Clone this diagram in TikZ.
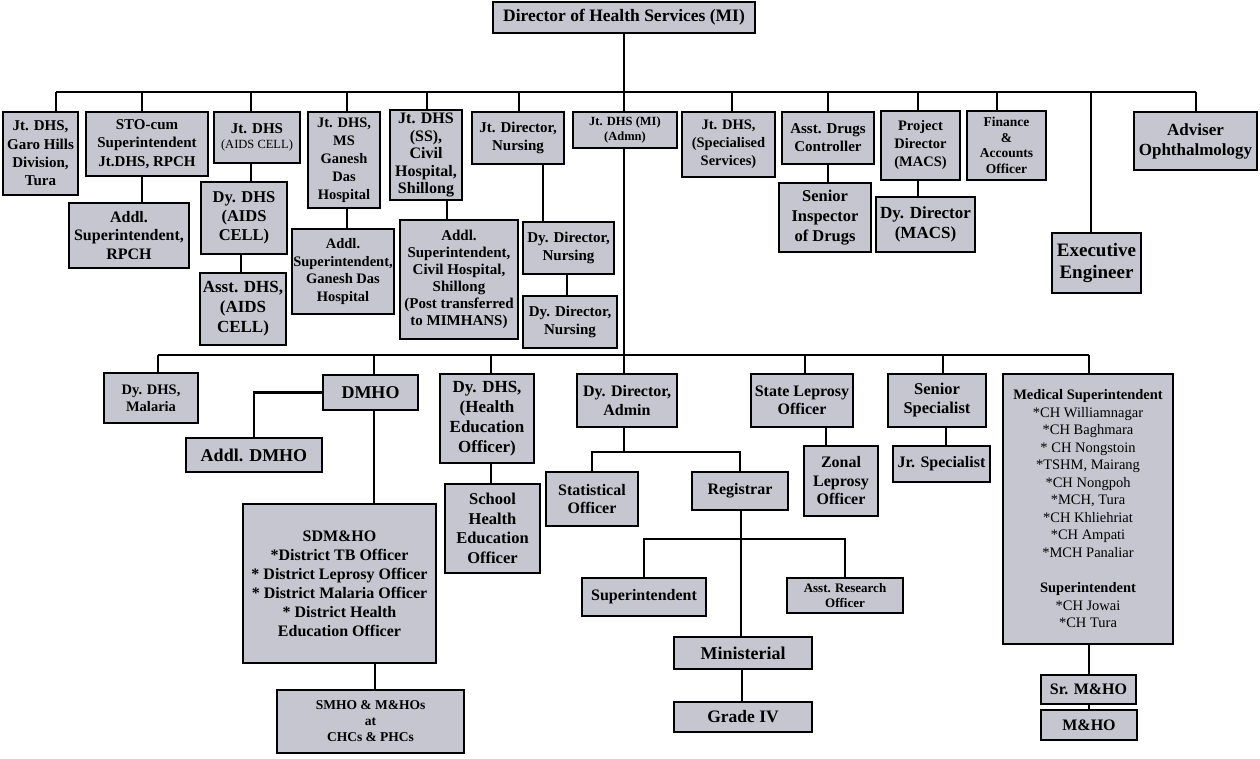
\documentclass[tikz,border=0pt]{standalone}
\usepackage{fontspec}
\setmainfont{Liberation Serif}
\definecolor{boxfill}{RGB}{198,198,208}
\tikzset{
  box/.style={draw=black, line width=2.6pt, fill=boxfill, inner sep=0pt, align=center},
  conn/.style={line width=2.6pt, line join=miter},
}
\newcommand\obox[8]{\node[box, minimum width={(#4)-(#2)}, minimum height={(#5)-(#3)}, font=\fontsize{#6}{#7}\selectfont\bfseries] (#1) at ({((#2)+(#4))/2},{((#3)+(#5))/2}) {#8};}
\begin{document}
\begin{tikzpicture}[x=1pt,y=-1pt]
\useasboundingbox[fill=white] (0,0) rectangle (1260,758);

% ---------- coordinates ----------
\coordinate (t1) at (56,92);
\coordinate (t2) at (142,92);
\coordinate (t3) at (251,92);
\coordinate (t4) at (347,92);
\coordinate (t5) at (427,92);
\coordinate (t6) at (519,92);
\coordinate (t7) at (624,92);
\coordinate (t8) at (732,92);
\coordinate (t9) at (828,92);
\coordinate (t10) at (918,92);
\coordinate (t11) at (997,92);
\coordinate (t12) at (1091,92);
\coordinate (t13) at (1196,92);

\coordinate (s1) at (158,355);
\coordinate (s2) at (374,355);
\coordinate (s3) at (491,355);
\coordinate (s4) at (624,355);
\coordinate (s5) at (805,355);
\coordinate (s6) at (943,355);
\coordinate (s7) at (1089,355);

\coordinate (k1) at (142,0);
\coordinate (k2) at (251,0);
\coordinate (k3) at (241,0);
\coordinate (k4) at (347,0);
\coordinate (k5) at (447,0);
\coordinate (k6) at (543,0);
\coordinate (k7) at (567,0);
\coordinate (k8) at (828,0);
\coordinate (k9) at (918,0);
\coordinate (k10) at (374,0);
\coordinate (k11) at (375,0);
\coordinate (k12) at (491,0);
\coordinate (k13) at (742,0);
\coordinate (k14) at (826,0);
\coordinate (k15) at (946,0);
\coordinate (k16) at (1089,0);
\coordinate (a1) at (624,452);
\coordinate (r1) at (741,539);

% ---------- boxes ----------
\obox{dir}{493}{2}{755}{33}{17.5}{20}{Director of Health Services (MI)}
\obox{garo}{3}{112}{78}{195}{15}{18.3}{Jt. DHS,\\Garo Hills\\Division,\\Tura}
\obox{sto}{86}{112}{208}{176}{15}{18.3}{STO-cum\\Superintendent\\Jt.DHS, RPCH}
\obox{aids}{214}{112}{300}{163}{15}{15}{Jt. DHS\\{\mdseries\fontsize{12.5}{14}\selectfont (AIDS CELL)}}
\obox{ms}{308}{112}{380}{208}{14.5}{18}{Jt. DHS,\\MS\\Ganesh\\Das\\Hospital}
\obox{ss}{390}{110}{462}{200}{16}{17.5}{Jt. DHS\\(SS),\\Civil\\Hospital,\\Shillong}
\obox{nurs}{472}{112}{564}{164}{15}{18}{Jt. Director,\\Nursing}
\obox{mi}{573}{112}{677}{148}{12.5}{14.5}{Jt. DHS (MI)\\(Admn)}
\obox{spec}{682}{112}{775}{177}{14.5}{18}{Jt. DHS,\\(Specialised\\Services)}
\obox{drug}{782}{112}{874}{164}{15}{18}{Asst. Drugs\\Controller}
\obox{proj}{881}{111}{960}{180}{14.5}{18}{Project\\Director\\(MACS)}
\obox{fin}{967}{111}{1046}{180}{13.5}{15.7}{Finance\\\&\\Accounts\\Officer}
\obox{adv}{1134}{112}{1257}{170}{17}{20}{Adviser\\Ophthalmology}
\obox{exe}{1052}{233}{1141}{293}{19}{21.5}{Executive\\Engineer}

\obox{rpch}{69}{203}{189}{268}{16}{18.3}{Addl.\\Superintendent,\\RPCH}
\obox{dyaids}{201}{182}{287}{254}{16.5}{19}{Dy. DHS\\(AIDS\\CELL)}
\obox{asaids}{200}{273}{286}{345}{17}{20}{Asst. DHS,\\(AIDS\\CELL)}
\obox{gdh}{292}{229}{394}{314}{14.5}{17.5}{Addl.\\Superintendent,\\Ganesh Das\\Hospital}
\obox{csh}{400}{220}{518}{339}{15}{17}{Addl.\\Superintendent,\\Civil Hospital,\\Shillong\\(Post transferred\\to MIMHANS)}
\obox{dn1}{523}{222}{614}{274}{15}{18}{Dy. Director,\\Nursing}
\obox{dn2}{523}{296}{617}{348}{15}{18}{Dy. Director,\\Nursing}
\obox{sid}{779}{183}{871}{252}{16.5}{20}{Senior\\Inspector\\of Drugs}
\obox{ddm}{876}{197}{975}{252}{17}{20}{Dy. Director\\(MACS)}

\obox{mal}{104}{373}{198}{423}{14.5}{17}{Dy. DHS,\\Malaria}
\obox{dmho}{323}{375}{418}{410}{18}{20}{DMHO}
\obox{admho}{186}{438}{322}{472}{18}{20}{Addl. DMHO}
\obox{he}{440}{374}{534}{463}{17}{20}{Dy. DHS,\\(Health\\Education\\Officer)}
\obox{school}{445}{484}{540}{573}{16.5}{19.5}{School\\Health\\Education\\Officer}
\obox{sdm}{243}{504}{436}{663}{16}{19}{SDM\&HO\\*District TB Officer\\* District Leprosy Officer\\* District Malaria Officer\\* District Health\\Education Officer}
\obox{smho}{277}{690}{464}{753}{13.5}{16}{SMHO \& M\&HOs\\at\\CHCs \& PHCs}
\obox{dadm}{577}{374}{677}{427}{16}{19}{Dy. Director,\\Admin}
\obox{stat}{546}{472}{638}{526}{16}{18.5}{Statistical\\Officer}
\obox{reg}{692}{472}{788}{510}{16}{19}{Registrar}
\obox{supt}{582}{578}{706}{616}{16}{19}{Superintendent}
\obox{aro}{787}{578}{903}{613}{13}{14.5}{Asst. Research\\Officer}
\obox{min}{674}{637}{812}{669}{18}{20}{Ministerial}
\obox{gfour}{674}{702}{812}{732}{17.5}{20}{Grade IV}
\obox{slo}{751}{374}{853}{427}{16}{18.5}{State Leprosy\\Officer}
\obox{zlo}{804}{446}{878}{516}{16}{18.5}{Zonal\\Leprosy\\Officer}
\obox{sspec}{888}{374}{986}{427}{16.5}{19}{Senior\\Specialist}
\obox{jspec}{893}{446}{990}{482}{16}{19}{Jr. Specialist}
\obox{msup}{1003}{374}{1173}{644}{14.5}{17.5}{Medical Superintendent\\{\mdseries *CH Williamnagar}\\{\mdseries *CH Baghmara}\\{\mdseries * CH Nongstoin}\\{\mdseries *TSHM, Mairang}\\{\mdseries *CH Nongpoh}\\{\mdseries *MCH, Tura}\\{\mdseries *CH Khliehriat}\\{\mdseries *CH Ampati}\\{\mdseries *MCH Panaliar}\\[18pt]Superintendent\\{\mdseries *CH Jowai}\\{\mdseries *CH Tura}}
\obox{srmho}{1041}{675}{1136}{704}{16}{19}{Sr. M\&HO}
\obox{mho}{1041}{710}{1137}{740}{16}{19}{M\&HO}

% ---------- lines ----------
\draw[conn] (t1) -- (t13);
\draw[conn] (dir.south) -- (dir.south |- t7);
\foreach \c/\n in {t1/garo,t2/sto,t3/aids,t4/ms,t5/ss,t6/nurs,t7/mi,t8/spec,t9/drug,t10/proj,t11/fin,t12/exe,t13/adv}
  \draw[conn] (\c) -- (\c |- \n.north);
\draw[conn] (sto.south -| k1) -- (k1 |- rpch.north);
\draw[conn] (aids.south -| k2) -- (k2 |- dyaids.north);
\draw[conn] (dyaids.south -| k3) -- (k3 |- asaids.north);
\draw[conn] (ms.south -| k4) -- (k4 |- gdh.north);
\draw[conn] (ss.south -| k5) -- (k5 |- csh.north);
\draw[conn] (nurs.south -| k6) -- (k6 |- dn1.north);
\draw[conn] (dn1.south -| k7) -- (k7 |- dn2.north);
\draw[conn] (drug.south -| k8) -- (k8 |- sid.north);
\draw[conn] (proj.south -| k9) -- (k9 |- ddm.north);

\draw[conn] (s1) -- (s7);
\draw[conn] (mi.south -| s4) -- (s4 |- dadm.north);
\foreach \c/\n in {s1/mal,s2/dmho,s3/he,s5/slo,s6/sspec,s7/msup}
  \draw[conn] (\c) -- (\c |- \n.north);
\draw[conn] (dmho.west) -| (admho.north);
\draw[conn] (dmho.south -| k10) -- (k10 |- sdm.north);
\draw[conn] (sdm.south -| k11) -- (k11 |- smho.north);
\draw[conn] (he.south -| k12) -- (k12 |- school.north);
\draw[conn] (dadm.south -| a1) -- (a1);
\draw[conn] (stat.north) -- (stat.north |- a1) -- (reg.north |- a1) -- (reg.north);
\draw[conn] (reg.south -| r1) -- (r1 |- min.north);
\draw[conn] (supt.north) -- (supt.north |- r1) -- (aro.north |- r1) -- (aro.north);
\draw[conn] (min.south -| k13) -- (k13 |- gfour.north);
\draw[conn] (slo.south -| k14) -- (k14 |- zlo.north);
\draw[conn] (sspec.south -| k15) -- (k15 |- jspec.north);
\draw[conn] (msup.south -| k16) -- (k16 |- srmho.north);
\draw[conn] (srmho.south -| k16) -- (k16 |- mho.north);
\end{tikzpicture}
\end{document}
